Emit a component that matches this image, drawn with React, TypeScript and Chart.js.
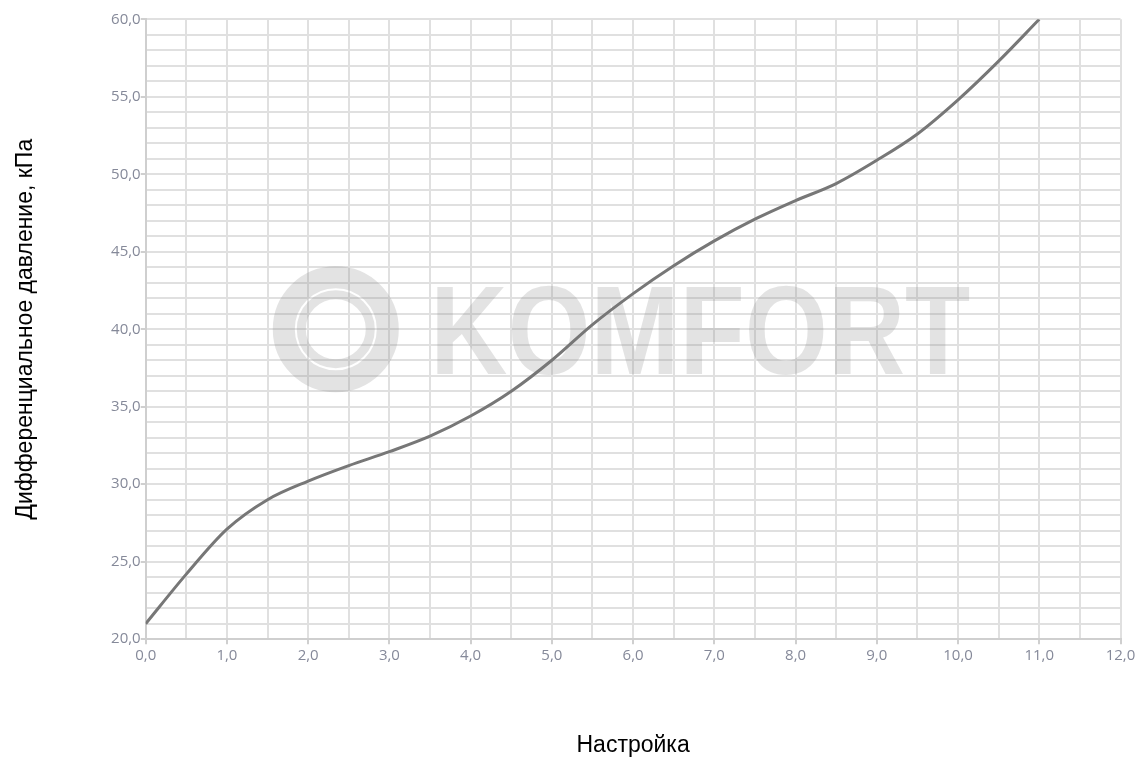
import React, { useEffect, useRef } from "react";
import { Chart, registerables } from "chart.js";

Chart.register(...registerables);

const settings = [0, 0.5, 1, 1.5, 2, 2.5, 3, 3.5, 4, 4.5, 5, 5.5, 6, 6.5, 7, 7.5, 8, 8.5, 9, 9.5, 10, 10.5, 11];
const pressure = [21.0, 24.2, 27.1, 29.0, 30.2, 31.2, 32.1, 33.1, 34.4, 36.0, 38.0, 40.3, 42.3, 44.1, 45.7, 47.1, 48.3, 49.4, 50.9, 52.6, 54.8, 57.3, 60.0];

const xTitle = "Настройка";
const yTitle = "Дифференциальное давление, кПа";
const watermarkText = "KOMFORT";

const fmt = (v: number) => v.toFixed(1).replace(".", ",");

const watermarkPlugin = {
  id: "watermarkPlugin",
  beforeDatasetsDraw(chart: any) {
    const { ctx, chartArea } = chart;
    const w = chartArea.right - chartArea.left;
    const h = chartArea.bottom - chartArea.top;
    const cx = chartArea.left + w * 0.195;
    const cy = chartArea.top + h * 0.5;
    ctx.save();
    ctx.fillStyle = "rgba(128,128,128,0.22)";
    ctx.strokeStyle = "rgba(128,128,128,0.22)";
    ctx.lineWidth = 22;
    ctx.beginPath();
    ctx.arc(cx, cy, 52, 0, Math.PI * 2);
    ctx.stroke();
    ctx.lineWidth = 9;
    ctx.beginPath();
    ctx.arc(cx, cy, 34.5, 0, Math.PI * 2);
    ctx.stroke();
    ctx.font = "bold 126px 'Liberation Sans', Arial, sans-serif";
    ctx.textAlign = "left";
    ctx.textBaseline = "alphabetic";
    const tx = chartArea.left + w * 0.292;
    ctx.fillText(watermarkText, tx, cy + 45, w * 0.554);
    ctx.restore();
  },
};

export default function App() {
  const ref = useRef<HTMLCanvasElement>(null);
  useEffect(() => {
    document.body.style.margin = "0";
    const c = ref.current;
    if (!c) return;
    const chart = new Chart(c, {
      type: "line",
      data: {
        datasets: [
          {
            data: settings.map((s, i) => ({ x: s, y: pressure[i] })),
            borderColor: "#777777",
            borderWidth: 3,
            pointRadius: 0,
            fill: false,
            cubicInterpolationMode: "monotone",
          },
        ],
      },
      options: {
        animation: false,
        responsive: false,
        layout: { padding: { left: 0, right: 21.5, top: 19.3, bottom: 0 } },
        plugins: { legend: { display: false }, tooltip: { enabled: false } },
        scales: {
          x: {
            type: "linear",
            min: 0,
            max: 12,
            afterFit: (s: any) => {
              s.height = 758 - 639.2;
            },
            ticks: {
              stepSize: 0.5,
              autoSkip: false,
              maxRotation: 0,
              padding: 3,
              color: "#858999",
              font: { family: "'Open Sans'", size: 15 },
              callback: (v: any) => (Number(v) % 1 === 0 ? fmt(Number(v)) : ""),
            },
            grid: {
              color: "#e0e0e0",
              lineWidth: 2,
              tickLength: 5,
              tickColor: (ctx: any) => (ctx.tick && ctx.tick.value % 1 === 0 ? "#cfcfcf" : "rgba(0,0,0,0)"),
            },
            border: { color: "#cfcfcf", width: 2 },
            title: {
              display: true,
              text: xTitle,
              color: "#000",
              font: { family: "'Liberation Sans', Arial", size: 23, lineHeight: 1.05 },
              padding: { top: 0, bottom: 0 },
            },
          },
          y: {
            type: "linear",
            min: 20,
            max: 60,
            afterFit: (s: any) => {
              s.width = 145.7;
            },
            ticks: {
              stepSize: 1,
              autoSkip: false,
              padding: 0,
              color: "#858999",
              font: { family: "'Open Sans'", size: 15 },
              callback: (v: any) => (Number(v) % 5 === 0 ? fmt(Number(v)) : ""),
            },
            grid: {
              color: "#e0e0e0",
              lineWidth: 2,
              tickLength: 5,
              tickColor: (ctx: any) => (ctx.tick && ctx.tick.value % 5 === 0 ? "#cfcfcf" : "rgba(0,0,0,0)"),
            },
            border: { color: "#cfcfcf", width: 2 },
            title: {
              display: true,
              text: yTitle,
              color: "#000",
              font: { family: "'Liberation Sans', Arial", size: 23 },
              padding: { top: 12, bottom: 0 },
            },
          },
        },
      },
      plugins: [watermarkPlugin],
    });
    return () => chart.destroy();
  }, []);
  return (
    <div style={{ width: 1142, height: 758 }}>
      <canvas ref={ref} width={1142} height={758} style={{ display: "block" }} />
    </div>
  );
}
